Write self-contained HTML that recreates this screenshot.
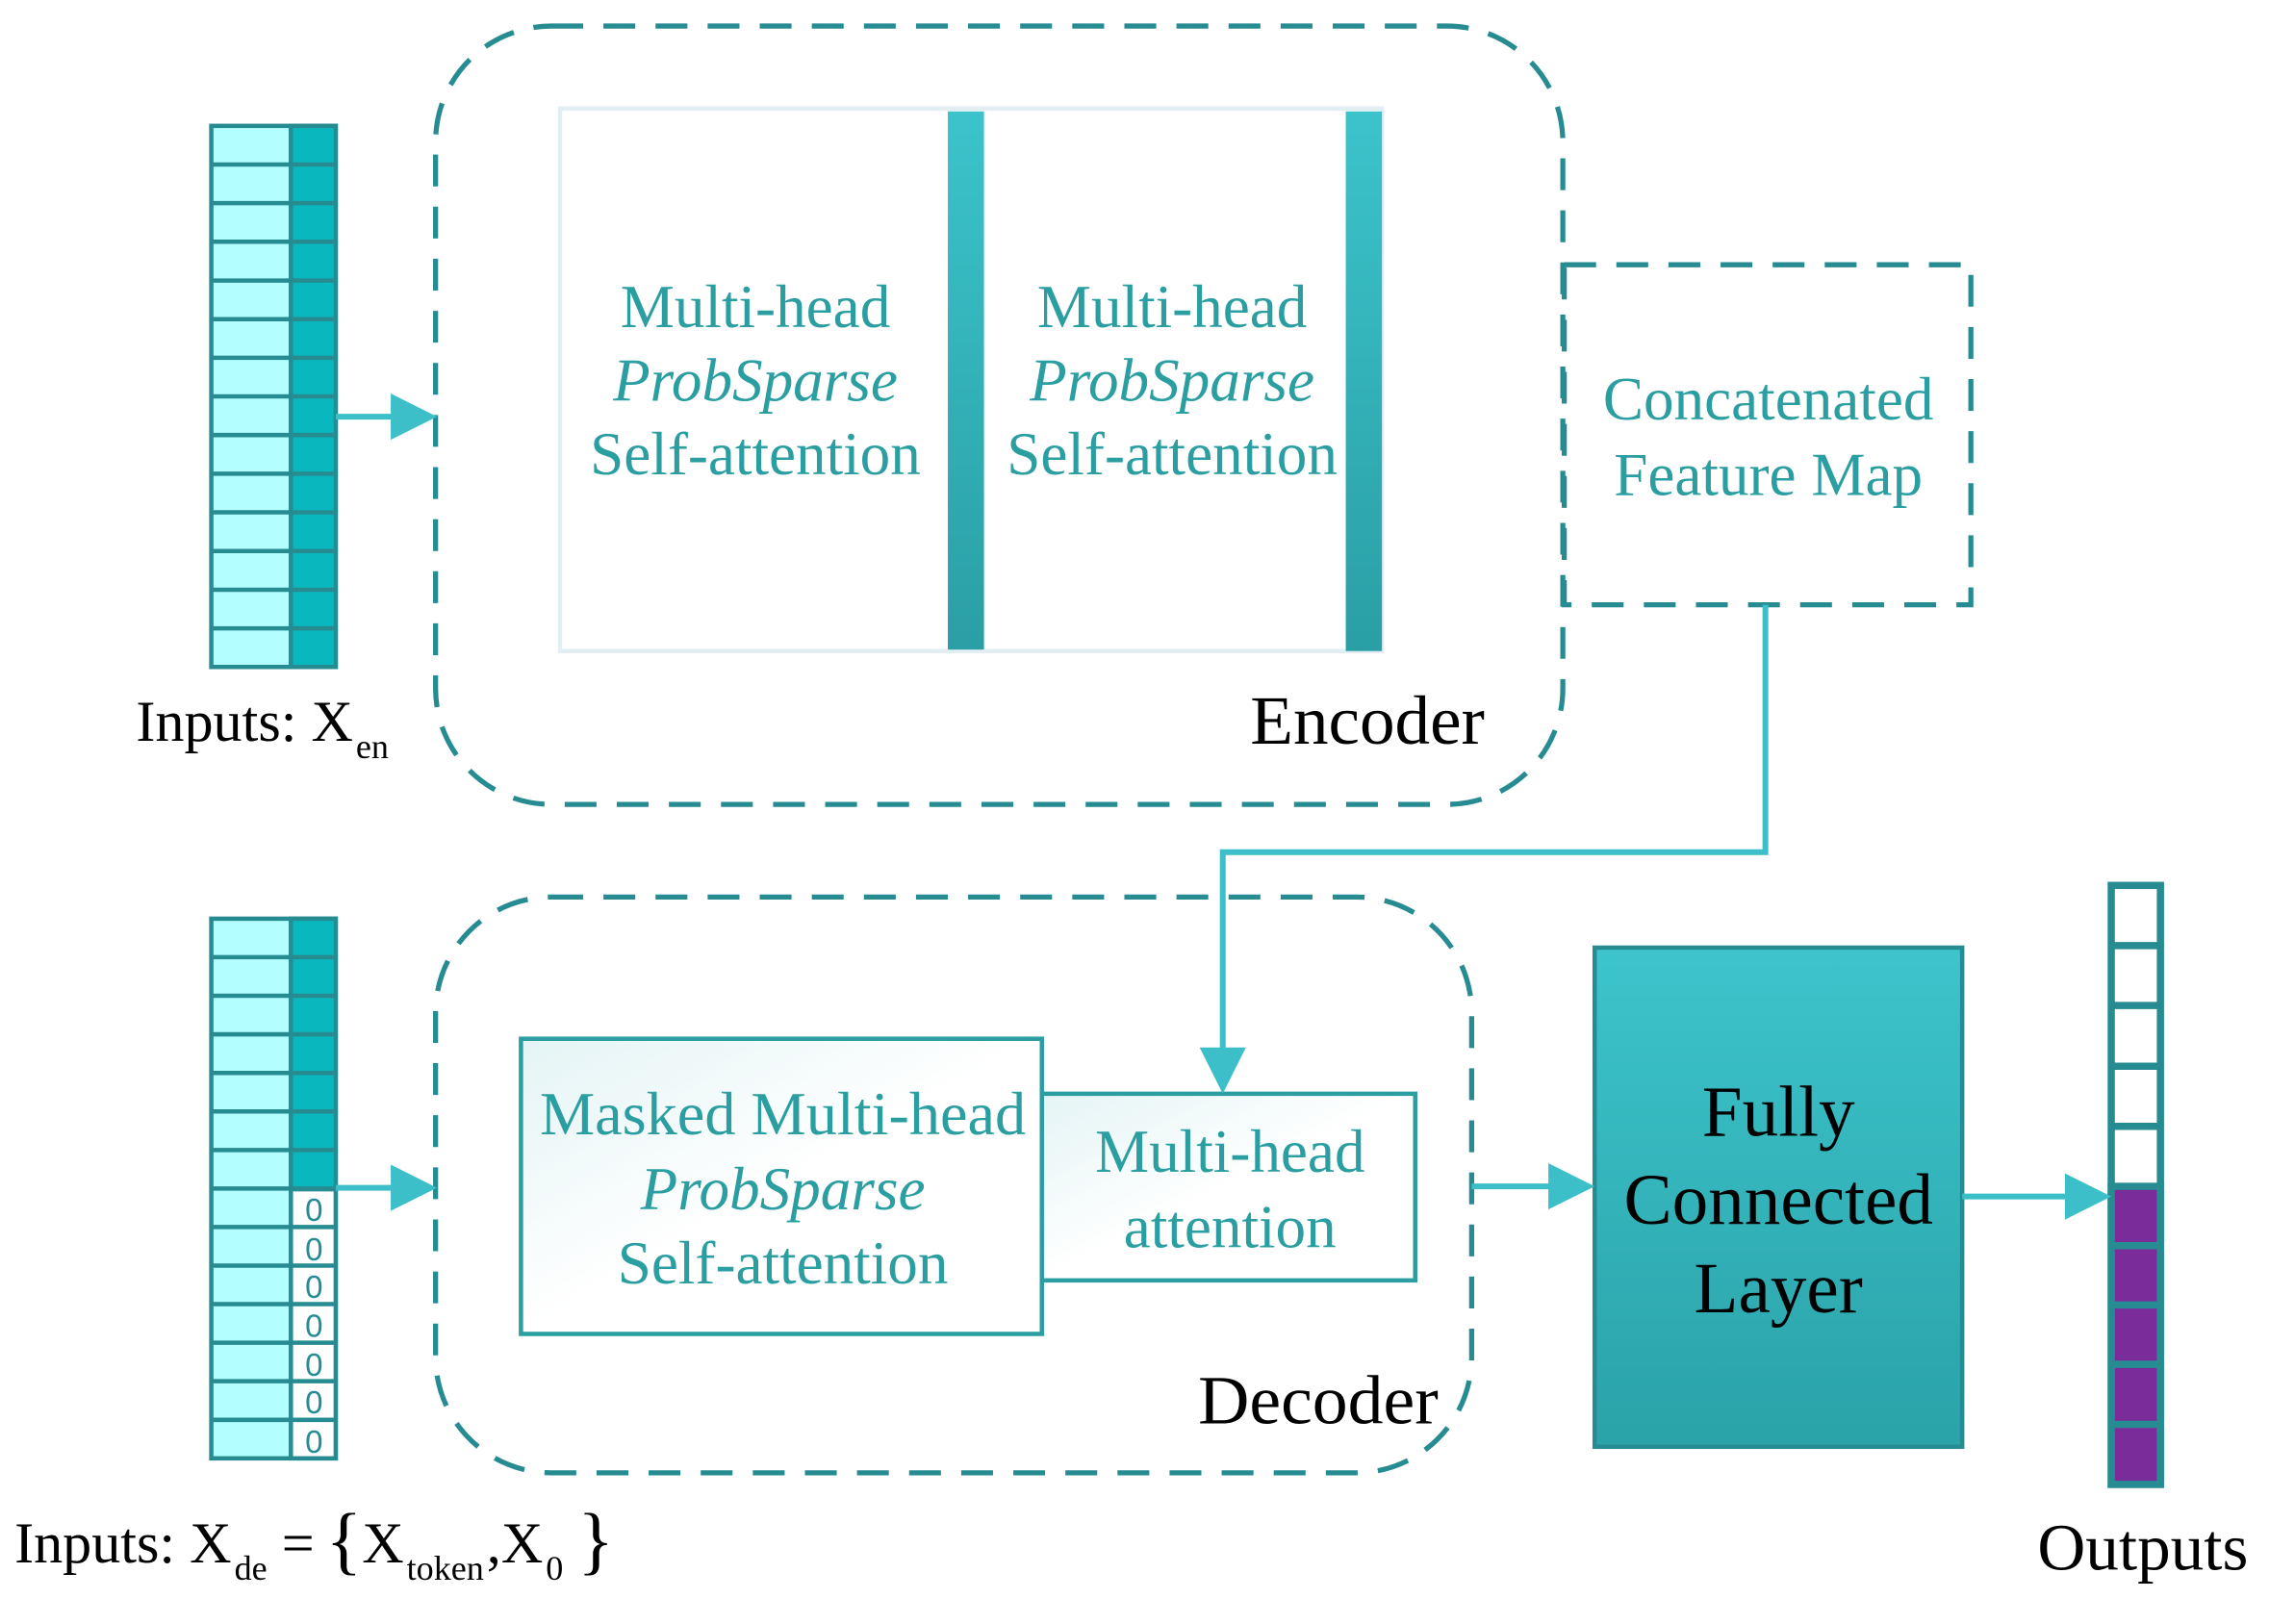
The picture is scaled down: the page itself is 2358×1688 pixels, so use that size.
<!DOCTYPE html>
<html><head><meta charset="utf-8"><style>
html,body{margin:0;padding:0;background:#fff}
svg{display:block}
text{font-family:"Liberation Serif",serif}
text.s{font-family:"Liberation Sans",sans-serif}
</style></head><body>
<svg width="2358" height="1688" viewBox="0 0 1568 1122.5" xmlns="http://www.w3.org/2000/svg">
<defs>
<linearGradient id="bar" x1="0" y1="0" x2="0" y2="1"><stop offset="0" stop-color="#3CC3CB"/><stop offset="1" stop-color="#2A9FA5"/></linearGradient>
<linearGradient id="fc" x1="0" y1="0" x2="0" y2="1"><stop offset="0" stop-color="#3DC4CC"/><stop offset="1" stop-color="#2AA2A8"/></linearGradient>
<linearGradient id="wb" x1="0" y1="0" x2="1" y2="1"><stop offset="0" stop-color="#E4F4F5"/><stop offset="0.5" stop-color="#fff"/></linearGradient>
</defs>
<g stroke="#268C92" stroke-width="3">
<rect x="146" y="87" width="86" height="374" fill="#B3FFFF"/>
<rect x="201" y="87" width="31" height="374" fill="#08B8BE"/>
<line x1="146" y1="113.7" x2="232" y2="113.7"/><line x1="146" y1="140.4" x2="232" y2="140.4"/><line x1="146" y1="167.1" x2="232" y2="167.1"/><line x1="146" y1="193.9" x2="232" y2="193.9"/><line x1="146" y1="220.6" x2="232" y2="220.6"/><line x1="146" y1="247.3" x2="232" y2="247.3"/><line x1="146" y1="274" x2="232" y2="274"/><line x1="146" y1="300.7" x2="232" y2="300.7"/><line x1="146" y1="327.4" x2="232" y2="327.4"/><line x1="146" y1="354.1" x2="232" y2="354.1"/><line x1="146" y1="380.9" x2="232" y2="380.9"/><line x1="146" y1="407.6" x2="232" y2="407.6"/><line x1="146" y1="434.3" x2="232" y2="434.3"/>
<rect x="146" y="635" width="86" height="373" fill="#B3FFFF"/>
<rect x="201" y="635" width="31" height="187" fill="#08B8BE"/>
<rect x="201" y="822" width="31" height="186" fill="#fff"/>
<line x1="146" y1="661.6" x2="232" y2="661.6"/><line x1="146" y1="688.3" x2="232" y2="688.3"/><line x1="146" y1="714.9" x2="232" y2="714.9"/><line x1="146" y1="741.6" x2="232" y2="741.6"/><line x1="146" y1="768.2" x2="232" y2="768.2"/><line x1="146" y1="794.9" x2="232" y2="794.9"/><line x1="146" y1="821.5" x2="232" y2="821.5"/><line x1="146" y1="848.1" x2="232" y2="848.1"/><line x1="146" y1="874.8" x2="232" y2="874.8"/><line x1="146" y1="901.4" x2="232" y2="901.4"/><line x1="146" y1="928.1" x2="232" y2="928.1"/><line x1="146" y1="954.7" x2="232" y2="954.7"/><line x1="146" y1="981.4" x2="232" y2="981.4"/>
</g>
<g fill="#268C92" font-size="22" text-anchor="middle">
<text class="s" x="217" y="844">0</text><text class="s" x="217" y="871">0</text><text class="s" x="217" y="897">0</text><text class="s" x="217" y="924">0</text><text class="s" x="217" y="951">0</text><text class="s" x="217" y="977">0</text><text class="s" x="217" y="1004">0</text>
</g>
<g fill="none" stroke="#268C92" stroke-width="3.5" stroke-dasharray="22,14">
<rect x="301" y="18" width="779" height="538" rx="80"/>
<rect x="1081" y="183" width="281" height="235"/>
<rect x="301" y="620" width="716" height="398" rx="80"/>
</g>
<rect x="387" y="75" width="568" height="375" fill="#fff" stroke="#E3EEF2" stroke-width="3"/>
<rect x="655" y="77" width="25" height="372" fill="url(#bar)"/>
<rect x="930" y="77" width="25" height="373" fill="url(#bar)"/>
<g fill="#2A9EA0" font-size="42" text-anchor="middle">
<text x="522" y="226">Multi-head</text><text x="522" y="277" font-style="italic">ProbSparse</text><text x="522" y="328">Self-attention</text>
<text x="810" y="226">Multi-head</text><text x="810" y="277" font-style="italic">ProbSparse</text><text x="810" y="328">Self-attention</text>
<text x="1222" y="290">Concatenated</text><text x="1222" y="342">Feature Map</text>
</g>
<rect x="360" y="718" width="360" height="204" fill="url(#wb)" stroke="#2A9EA0" stroke-width="3"/>
<rect x="720" y="756" width="258" height="129" fill="url(#wb)" stroke="#2A9EA0" stroke-width="3"/>
<g fill="#2A9EA0" font-size="42" text-anchor="middle">
<text x="541" y="784" textLength="336" lengthAdjust="spacingAndGlyphs">Masked Multi-head</text><text x="541" y="836" font-style="italic">ProbSparse</text><text x="541" y="887">Self-attention</text>
<text x="850" y="810">Multi-head</text><text x="850" y="862">attention</text>
</g>
<rect x="1102" y="655" width="254" height="345" fill="url(#fc)" stroke="#268C92" stroke-width="3"/>
<g fill="#000" font-size="50" text-anchor="middle">
<text x="1229" y="785">Fully</text><text x="1229" y="846">Connected</text><text x="1229" y="907">Layer</text>
</g>
<g stroke="#268C92" stroke-width="5">
<rect x="1459" y="612" width="34" height="414" fill="#fff"/>
<rect x="1459" y="820" width="34" height="206" fill="#7B2C9B"/>
<line x1="1459" y1="653.6" x2="1493" y2="653.6"/><line x1="1459" y1="695" x2="1493" y2="695"/><line x1="1459" y1="737" x2="1493" y2="737"/><line x1="1459" y1="778.5" x2="1493" y2="778.5"/>
<line x1="1459" y1="861" x2="1493" y2="861"/><line x1="1459" y1="902" x2="1493" y2="902"/><line x1="1459" y1="943" x2="1493" y2="943"/><line x1="1459" y1="984.5" x2="1493" y2="984.5"/>
</g>
<g stroke="#3DBFC9" stroke-width="4" fill="none">
<line x1="232" y1="288" x2="275" y2="288"/>
<line x1="232" y1="821" x2="275" y2="821"/>
<polyline points="1220,418 1220,589 845,589 845,730"/>
<line x1="1017" y1="820" x2="1075" y2="820"/>
<line x1="1356" y1="827" x2="1432" y2="827"/>
</g>
<g fill="#3DBFC9">
<polygon points="270,272 302,288 270,304"/>
<polygon points="270,805 302,821 270,837"/>
<polygon points="829,724 845,756 861,724"/>
<polygon points="1070,804 1102,820 1070,836"/>
<polygon points="1427,811 1459,827 1427,843"/>
</g>
<g fill="#000">
<text x="94" y="512" font-size="40">Inputs: X<tspan font-size="24" dy="12" dx="2">en</tspan></text>
<text x="864" y="514" font-size="48" textLength="162" lengthAdjust="spacingAndGlyphs">Encoder</text>
<text x="828" y="984" font-size="48" textLength="166" lengthAdjust="spacingAndGlyphs">Decoder</text>
<text x="10" y="1080" font-size="40">Inputs: X<tspan font-size="24" dy="12" dx="2">de</tspan><tspan dy="-12" dx="10">=</tspan><tspan font-size="52" dy="2" dx="8">{</tspan><tspan dy="-2">X</tspan><tspan font-size="24" dy="12" dx="2">token</tspan><tspan dy="-12" dx="2">,X</tspan><tspan font-size="24" dy="12" dx="2">0</tspan><tspan font-size="52" dy="-10" dx="10">}</tspan></text>
<text x="1408" y="1085" font-size="46">Outputs</text>
</g>
</svg>
</body></html>
